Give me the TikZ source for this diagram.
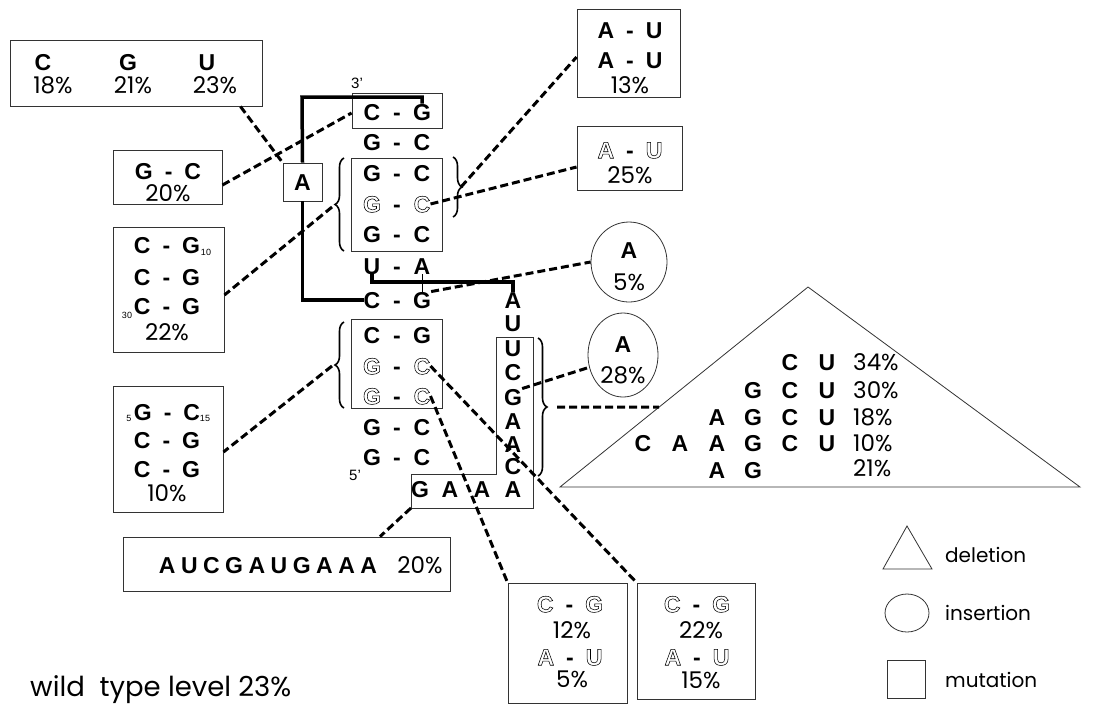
\documentclass[tikz,border=0pt]{standalone}
\usepackage{fontspec}
\setmainfont{Liberation Sans}
\newfontfamily\popf{Poppins}
\usetikzlibrary{calc,decorations.pathreplacing,shapes.geometric}
\newcommand{\hol}[1]{\special{pdf:literal direct 1 Tr 0.55 w}#1\special{pdf:literal direct 0 Tr}}
\newcommand{\pr}[2]{#1\hspace{12pt}-\hspace{12pt}#2}
\newcommand{\stemrow}[4]{%
  \node[base] (#1l) at (372,#2) {#3};
  \node[base] (#1d) at (397,#2) {-};
  \node[base] (#1r) at (422,#2) {#4};}
\tikzset{
  base/.style={font=\fontsize{23}{23}\selectfont\bfseries, inner sep=0pt, text height=16.5pt, text depth=0pt},
  pct/.style={font=\popf\fontsize{23}{23}\selectfont, inner sep=0pt, text height=16pt, text depth=0pt},
  mut/.style={draw=black!80, line width=0.9pt, inner sep=0pt, rectangle},
  ins/.style={draw=black!80, line width=0.8pt, ellipse, inner sep=0pt},
  dsh/.style={line width=3pt, dash pattern=on 8pt off 4pt},
  bb/.style={line width=3.5pt},
  brc/.style={decorate, decoration={brace, amplitude=9pt}, line width=1.6pt},
  sml/.style={font=\fontsize{15}{15}\selectfont, inner sep=0pt},
  sub/.style={font=\fontsize{9}{9}\selectfont, inner sep=0pt},
  leg/.style={font=\popf\fontsize{20}{20}\selectfont, inner sep=0pt, anchor=west}
}
\begin{document}
\begin{tikzpicture}[x=1pt,y=-1pt]
\useasboundingbox (0,0) rectangle (1110,705);

% ---------- boxes ----------
\node[mut, minimum width=252, minimum height=66] (bCGU) at (136,73) {};
\node[mut, minimum width=109, minimum height=54] (bGC20) at (167.5,177) {};
\node[mut, minimum width=39, minimum height=38] (bA) at (302.5,182) {};
\node[mut, minimum width=90, minimum height=35] (bTop) at (397,110.5) {};
\node[mut, minimum width=91, minimum height=93] (bMid) at (396.5,204.5) {};
\node[mut, minimum width=103, minimum height=88] (bAU13) at (628.5,53) {};
\node[mut, minimum width=105, minimum height=64] (bAU25) at (629.5,158) {};
\node[mut, minimum width=111, minimum height=125] (bCG10) at (168.5,289.5) {};
\node[mut, minimum width=91, minimum height=89] (bLow) at (396.5,363.5) {};
\node[mut, minimum width=110, minimum height=126] (b10) at (168,449) {};
\node[mut, minimum width=327, minimum height=54] (bAUCG) at (286.5,564) {};
\node[mut, minimum width=119, minimum height=120] (bB1) at (567.5,643) {};
\node[mut, minimum width=118, minimum height=116] (bB2) at (696,641) {};

% L-shaped mutation box
\coordinate (L1) at (496,337);
\coordinate (L2) at (533,337);
\coordinate (L3) at (533,508);
\coordinate (L4) at (411,508);
\coordinate (L5) at (411,474);
\coordinate (L6) at (496,474);
\draw[draw=black!80, line width=0.9pt] (L1) -- (L2) -- (L3) -- (L4) -- (L5) -- (L6) -- cycle;

% insertion circles
\node[ins, minimum width=76, minimum height=80] (c5) at (629,262) {};
\node[ins, minimum width=70, minimum height=84] (c28) at (623,355) {};
\node[base] (c5A) at (629,250) {A};
\node[pct] (c5p) at (629,282) {5\%};
\node[base] (c28A) at (623,344) {A};
\node[pct] (c28p) at (623,375) {28\%};

% deletion triangle
\coordinate (ta) at (808,287);
\coordinate (tl) at (560,487);
\coordinate (tr) at (1080,487);
\draw[black!80, line width=0.8pt] (tl) -- (ta) -- (tr) -- cycle;

% ---------- stem ----------
\stemrow{r1}{112}{C}{G}
\stemrow{r2}{142}{G}{C}
\stemrow{r3}{173}{G}{C}
\stemrow{r4}{204}{\hol{G}}{\hol{C}}
\stemrow{r5}{234}{G}{C}
\stemrow{r6}{266}{U}{A}
\stemrow{r7}{300}{C}{G}
\stemrow{r8}{335}{C}{G}
\stemrow{r9}{366}{\hol{G}}{\hol{C}}
\stemrow{r10}{396}{\hol{G}}{\hol{C}}
\stemrow{r11}{427}{G}{C}
\stemrow{r12}{457}{G}{C}

\node[base] (bAl) at (302.5,182) {A};

% right column
\node[base] (k1) at (513,300) {A};
\node[base] (k2) at (513,323) {U};
\node[base] (k3) at (513,348) {U};
\node[base] (k4) at (513,372) {C};
\node[base] (k5) at (513,397) {G};
\node[base] (k6) at (513,421) {A};
\node[base] (k7) at (513,444) {A};
\node[base] (k8) at (513,466) {C};
\node[base] (g1) at (420,489) {G};
\node[base] (g2) at (450,489) {A};
\node[base] (g3) at (482,489) {A};
\node[base] (g4) at (513,489) {A};

\node[sml] (p3) at (357,83) {3’};
\node[sml] (p5) at (355,475) {5’};

% backbone lines
\coordinate (kk) at (302,97);
\draw[bb] (bA.north) -- (kk) -| (r1r.north);
\draw[bb] (bA.south) |- (r7l.west);
\coordinate (kt) at (450,282);
\draw[bb] (r6l.south) |- (kt) -| (k1.north);
\draw[line width=0.7pt] (r6r.south) -- (r7r.north);

% braces
\draw[brc] (344,251) -- (344,158);
\draw[brc] (453,157) -- (453,217);
\draw[brc] (344,408) -- (344,322);
\draw[brc] (538,338) -- (538,476);
\coordinate (lbt1) at (332,207);
\coordinate (rbt1) at (461,187);
\coordinate (lbt2) at (332,366);
\coordinate (rbt2) at (557,407);

% ---------- box contents ----------
\node[base] (tC) at (43,62) {C};
\node[base] (tG) at (128,62) {G};
\node[base] (tU) at (207,62) {U};
\node[pct] (p18) at (53,85) {18\%};
\node[pct] (p21) at (133,85) {21\%};
\node[pct] (p23) at (215,85) {23\%};

\node[base] (gc20) at (168,171) {\pr{G}{C}};
\node[pct] (p20a) at (168,193) {20\%};

\node[base] (au1) at (630,30) {\pr{A}{U}};
\node[base] (au2) at (630,60) {\pr{A}{U}};
\node[pct] (p13) at (630,85) {13\%};

\node[base] (au3) at (630,150) {\pr{\hol{A}}{\hol{U}}};
\node[pct] (p25) at (630,175) {25\%};

\node[base] (cg1) at (167,245) {\pr{C}{G}};
\node[sub] (s10) at (206,252) {10};
\node[base] (cg2) at (167,277) {\pr{C}{G}};
\node[base] (cg3) at (167,306) {\pr{C}{G}};
\node[sub] (s30) at (127,315) {30};
\node[pct] (p22a) at (167,332) {22\%};

\node[base] (gc5) at (167,412) {\pr{G}{C}};
\node[sub] (s5) at (129,418) {5};
\node[sub] (s15) at (205,418) {15};
\node[base] (cg4) at (167,440) {\pr{C}{G}};
\node[base] (cg5) at (167,469) {\pr{C}{G}};
\node[pct] (p10a) at (167,493) {10\%};

\node[base] (seq) at (268,565) {A\hspace{5.5pt}U\hspace{5.5pt}C\hspace{5.5pt}G\hspace{5.5pt}A\hspace{5.5pt}U\hspace{5.5pt}G\hspace{5.5pt}A\hspace{5.5pt}A\hspace{5.5pt}A};
\node[pct] (p20b) at (420,565) {20\%};

\node[base] (hb1) at (570,604) {\pr{\hol{C}}{\hol{G}}};
\node[pct] (p12) at (572,630) {12\%};
\node[base] (hb2) at (570,657) {\pr{\hol{A}}{\hol{U}}};
\node[pct] (p5b) at (572,679) {5\%};

\node[base] (hb3) at (697,604) {\pr{\hol{C}}{\hol{G}}};
\node[pct] (p22b) at (701,630) {22\%};
\node[base] (hb4) at (697,657) {\pr{\hol{A}}{\hol{U}}};
\node[pct] (p15) at (701,680) {15\%};

% triangle content
\node[base] (d1a) at (790,362) {C};
\node[base] (d1b) at (827,362) {U};
\node[pct, anchor=west] (d1p) at (853,362) {34\%};
\node[base] (d2a) at (753,390) {G};
\node[base] (d2b) at (790,390) {C};
\node[base] (d2c) at (827,390) {U};
\node[pct, anchor=west] (d2p) at (853,390) {30\%};
\node[base] (d3a) at (717,417) {A};
\node[base] (d3b) at (753,417) {G};
\node[base] (d3c) at (790,417) {C};
\node[base] (d3d) at (827,417) {U};
\node[pct, anchor=west] (d3p) at (853,417) {18\%};
\node[base] (d4a) at (643,443) {C};
\node[base] (d4b) at (680,443) {A};
\node[base] (d4c) at (717,443) {A};
\node[base] (d4d) at (753,443) {G};
\node[base] (d4e) at (790,443) {C};
\node[base] (d4f) at (827,443) {U};
\node[pct, anchor=west] (d4p) at (853,443) {10\%};
\node[base] (d5a) at (717,470) {A};
\node[base] (d5b) at (753,470) {G};
\node[pct, anchor=west] (d5p) at (853,468) {21\%};

% ---------- connectors ----------
\draw[dsh] ($(bCGU.south east)+(-22,0)$) -- (bA.north west);
\draw[dsh] ($(bGC20.east)+(0,8)$) -- ($(bTop.west)+(0,2.5)$);
\draw[dsh] (rbt1) -- ($(bAU13.west)+(0,4)$);
\draw[dsh] (r4r.east) -- ($(bAU25.west)+(0,9)$);
\draw[dsh] (lbt1) -- ($(bCG10.east)+(0,5.5)$);
\draw[dsh] (r7r.north east) -- (c5.west);
\draw[dsh] (k5.north east) -- (c28.200);
\draw[dsh] (rbt2) -- ($(tl)!0.4!(ta)$);
\draw[dsh] (lbt2) -- ($(b10.east)+(0,3)$);
\draw[dsh] (L4) -- ($(bAUCG.north)+(93.5,0)$);
\draw[dsh] (r10r.east) -- (bB1.north west);
\draw[dsh] (r9r.east) -- (bB2.north west);

% ---------- legend ----------
\coordinate (la) at (907,526);
\coordinate (ll) at (883,569);
\coordinate (lr) at (932,569);
\draw[black!80, line width=0.8pt] (ll) -- (la) -- (lr) -- cycle;
\node[ins, minimum width=44, minimum height=38] (lc) at (907,613) {};
\node[mut, minimum width=38, minimum height=38] (ls) at (906,679) {};
\node[leg] (ldel) at (945,555) {deletion};
\node[leg] (lins) at (945,613) {insertion};
\node[leg] (lmut) at (945,680) {mutation};

\node[leg, font=\popf\fontsize{27.5}{27.5}\selectfont] (wt) at (30,690) {wild\ \ type level 23\%};
\end{tikzpicture}
\end{document}
